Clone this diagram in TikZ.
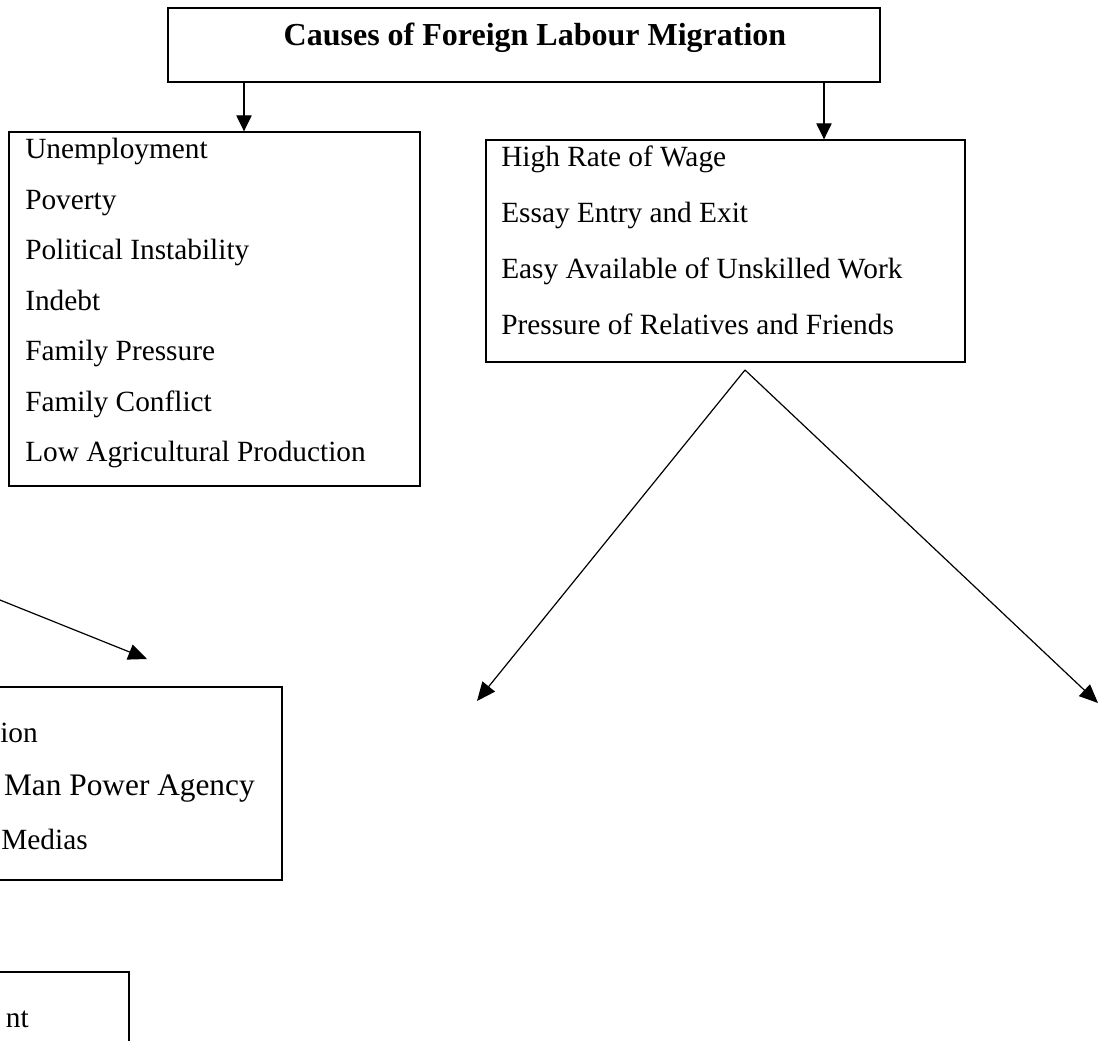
\documentclass[tikz,border=0pt]{standalone}
\usepackage{fontspec}
\setmainfont{Liberation Serif}
\usetikzlibrary{arrows.meta}
\begin{document}
\begin{tikzpicture}[x=0.75pt,y=-0.75pt,
  box/.style={draw, line width=1pt, inner sep=0pt, rectangle},
  item/.style={inner sep=0pt, font=\fontsize{22}{26}\selectfont},
  bigitem/.style={inner sep=0pt, font=\fontsize{23.5}{28}\selectfont},
  arr/.style={line width=0.9pt, -{Triangle[length=12pt,width=11.5pt]}},
  darr/.style={line width=0.9pt, -{Triangle[length=14pt,width=12pt]}}]
\useasboundingbox (0,0) rectangle (1101,1041);
\clip (0,0) rectangle (1101,1041);
% boxes
\node[box, line width=1.1pt, minimum width=534pt, minimum height=55.5pt] (top) at (524,45) {};
\node[inner sep=0pt, anchor=base, font=\bfseries\fontsize{24}{28}\selectfont] (title) at (535,46) {Causes of Foreign Labour Migration};
\node[box, minimum width=308.25pt, minimum height=265.5pt] (lbox) at (214.5,309) {};
\node[box, minimum width=359.25pt, minimum height=166.5pt] (rbox) at (725.5,251) {};
\node[box, minimum width=436.5pt, minimum height=144.75pt] (mbox) at (-9,783.5) {};
\node[box, minimum width=321.75pt, minimum height=126.75pt] (bbox) at (-85.5,1056.5) {};
% left box items
\node[item, anchor=base west] (l1) at (25,159) {Unemployment};
\node[item, anchor=base west] (l2) at (25,209.5) {Poverty};
\node[item, anchor=base west] (l3) at (25,260) {Political Instability};
\node[item, anchor=base west] (l4) at (25,310.5) {Indebt};
\node[item, anchor=base west] (l5) at (25,361) {Family Pressure};
\node[item, anchor=base west] (l6) at (25,411.5) {Family Conflict};
\node[item, anchor=base west] (l7) at (25,462) {Low Agricultural Production};
% right box items
\node[item, anchor=base west] (r1) at (501,167) {High Rate of Wage};
\node[item, anchor=base west] (r2) at (501,223) {Essay Entry and Exit};
\node[item, anchor=base west] (r3) at (501,279) {Easy Available of Unskilled Work};
\node[item, anchor=base west] (r4) at (501,335) {Pressure of Relatives and Friends};
% middle box items (cut at the left edge in the reference)
\node[item, anchor=base east] (m1) at (38,742) {ion};
\node[bigitem, anchor=base east] (m2) at (255,795.5) {Man Power Agency};
\node[item, anchor=base east] (m3) at (88,849) {Medias};
% bottom box item
\node[item, anchor=base east] (b1) at (29,1027) {nt};
% connectors
\coordinate (c1) at (244,0);
\coordinate (c2) at (824,0);
\draw[arr] (top.south -| c1) -- (lbox.north -| c1);
\draw[arr] (top.south -| c2) -- (rbox.north -| c2);
\coordinate (apex) at (745,370);
\coordinate (e1) at (477,701);
\coordinate (e2) at (1098,703);
\draw[darr] (apex) -- (e1);
\draw[darr] (apex) -- (e2);
\coordinate (s3) at (-30,588);
\coordinate (e3) at (147,659);
\draw[darr] (s3) -- (e3);
\end{tikzpicture}
\end{document}
